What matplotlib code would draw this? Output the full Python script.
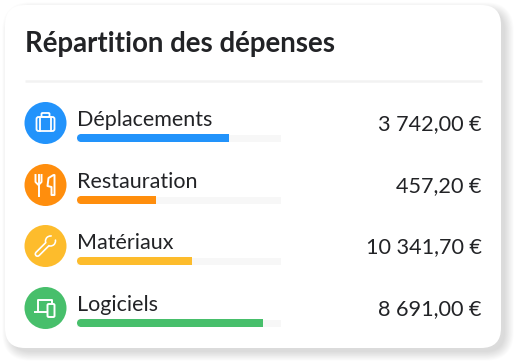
import matplotlib
matplotlib.use('Agg')
import matplotlib.pyplot as plt
from matplotlib.patches import Circle, FancyBboxPatch, Polygon

title = 'Répartition des dépenses'
categories = ['Déplacements', 'Restauration', 'Matériaux', 'Logiciels']
amounts = ['3 742,00 €', '457,20 €', '10 341,70 €', '8 691,00 €']
shares = [0.745, 0.387, 0.564, 0.91]
colors = ['#2293fb', '#ff8e0d', '#fdbc2c', '#47bf6b']

row_y = [123, 185, 246, 308]
track_x = 77
track_w = 204
dark = '#222326'

plt.rcParams['font.family'] = ['Lato', 'DejaVu Sans']

fig = plt.figure(figsize=(5.17, 3.64), dpi=100)
ax = fig.add_axes([0, 0, 1, 1])
ax.set_xlim(0, 517)
ax.set_ylim(364, 0)
ax.axis('off')


def box(x, y, w, h, r, **kw):
    p = FancyBboxPatch((x + r, y + r), w - 2 * r, h - 2 * r,
                       boxstyle='round,pad=%s,rounding_size=%s' % (r, r),
                       mutation_aspect=1, **kw)
    ax.add_patch(p)
    return p


# shadow then card
for i in range(12):
    box(6 + 5 - i * 0.8, 6 + 5 - i * 0.8, 494 + i * 1.6, 341 + i * 1.6, 20 + i * 0.8,
        fc='#000000', ec='none', alpha=0.012, zorder=1)
box(5, 5, 496, 343, 20, fc='white', ec='none', zorder=2)

ax.text(25, 44, title, fontsize=19.9, fontweight='bold', color=dark,
        va='center', ha='left', zorder=5)
ax.plot([25, 482], [81, 81], color='#f2f2f2', lw=1.8, zorder=3,
        solid_capstyle='butt')


def suitcase(cx, cy):
    lw = 1.3
    box(cx - 9, cy - 6, 18, 14, 2, fc='none', ec='white', lw=lw, zorder=6)
    box(cx - 4, cy - 10, 8, 4, 1, fc='none', ec='white', lw=lw, zorder=6)
    ax.plot([cx - 5.5, cx - 5.5], [cy - 6, cy + 8], color='white', lw=lw, zorder=6)
    ax.plot([cx + 5.5, cx + 5.5], [cy - 6, cy + 8], color='white', lw=lw, zorder=6)


def cutlery(cx, cy):
    lw = 1.4
    ax.plot([cx - 10, cx - 10, cx - 7, cx - 4, cx - 4], [cy - 10, cy - 3, cy + 0, cy - 3, cy - 10],
            color='white', lw=lw, zorder=6)
    ax.plot([cx - 7, cx - 7], [cy - 10, cy + 11], color='white', lw=lw, zorder=6)
    ax.add_patch(Polygon([[cx + 8, cy - 10], [cx + 3, cy - 7], [cx + 2, cy + 1], [cx + 6, cy + 2],
                          [cx + 6, cy + 10], [cx + 9, cy + 10], [cx + 9, cy - 10]],
                         closed=True, fc='none', ec='white', lw=lw, joinstyle='round', zorder=6))


def wrench(cx, cy):
    # white outline of the handle and head, hollowed with the circle colour
    ax.plot([cx - 8, cx + 4], [cy + 8, cy - 4], color='white', lw=4.4, zorder=6,
            solid_capstyle='round')
    ax.add_patch(Circle((cx + 5, cy - 5), 5.8, fc='white', ec='none', zorder=6))
    ax.plot([cx - 8, cx + 4], [cy + 8, cy - 4], color=colors[2], lw=2.0, zorder=7,
            solid_capstyle='round')
    ax.add_patch(Circle((cx + 5, cy - 5), 4.2, fc=colors[2], ec='none', zorder=7))
    ax.add_patch(Polygon([[cx + 7, cy - 12], [cx + 5, cy - 6.5], [cx + 6.5, cy - 5], [cx + 12, cy - 7.5]],
                         closed=True, fc=colors[2], ec='none', zorder=8))


def devices(cx, cy):
    lw = 1.4
    ax.plot([cx - 8, cx - 8, cx + 6, cx + 6], [cy + 3, cy - 8, cy - 8, cy - 5],
            color='white', lw=lw, zorder=6)
    ax.plot([cx - 11, cx + 1], [cy + 4, cy + 4], color='white', lw=lw, zorder=6)
    box(cx + 2, cy - 4, 7, 13, 1.2, fc=colors[3], ec='white', lw=lw, zorder=7)


icons = [suitcase, cutlery, wrench, devices]

for i in range(len(categories)):
    y = row_y[i]
    ax.add_patch(Circle((45.5, y), 21, fc=colors[i], ec='none', zorder=4))
    icons[i](45.5, y)
    ax.text(77, y - 3, categories[i], fontsize=15.5, color=dark, va='center', ha='left', zorder=5)
    ax.text(482, y + 1, amounts[i], fontsize=15.6, color=dark, va='center', ha='right', zorder=5)
    # track and value bar
    by = y + 15
    ax.barh(by, track_w, left=track_x, height=7, color='#f7f7f7', zorder=3)
    ax.barh(by, track_w * shares[i] - 4, left=track_x + 4, height=8, color=colors[i], zorder=4)
    ax.add_patch(Circle((track_x + 4, by), 4, fc=colors[i], ec='none', zorder=4))

fig.savefig('out.png', dpi=100)
